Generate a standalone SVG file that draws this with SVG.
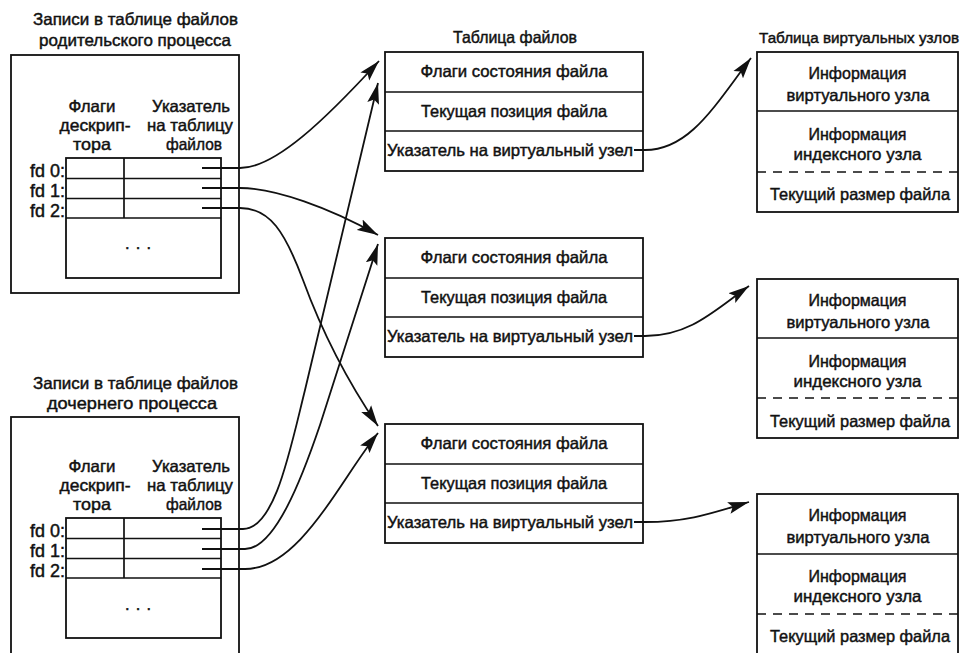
<svg xmlns="http://www.w3.org/2000/svg" width="970" height="653" viewBox="0 0 970 653">
<style>
.bx{fill:none;stroke:#111;stroke-width:1.8}
.ln{fill:none;stroke:#111;stroke-width:1.7}
.ds{fill:none;stroke:#111;stroke-width:1.6;stroke-dasharray:9 7}
.t{font-family:"Liberation Sans Narrow","Liberation Sans",Arial,sans-serif;font-size:16.5px;fill:#111;stroke:#111;stroke-width:0.45}
.m{text-anchor:middle}
.e{text-anchor:end}
.fd{font-size:18px}
.cn{fill:none;stroke:#111;stroke-width:1.8;marker-end:url(#ah)}
</style>
<defs>
<marker id="ah" viewBox="-21 -6.5 21 13" refX="0" refY="0" markerWidth="21" markerHeight="13" markerUnits="userSpaceOnUse" orient="auto">
<path d="M0,0 L-21,-6 L-17,0 L-21,6 Z" fill="#111"/>
</marker>
</defs>
<rect width="970" height="653" fill="#fff"/>

<g id="parent">
<text class="t" x="33" y="25" textLength="205" lengthAdjust="spacingAndGlyphs">Записи в таблице файлов</text>
<text class="t" x="39" y="46" textLength="192" lengthAdjust="spacingAndGlyphs">родительского процесса</text>
<rect class="bx" x="11" y="55" width="228" height="238"/>
<text class="t m" x="92" y="112" textLength="47" lengthAdjust="spacingAndGlyphs">Флаги</text>
<text class="t m" x="95" y="131" textLength="71" lengthAdjust="spacingAndGlyphs">дескрип-</text>
<text class="t m" x="92" y="150" textLength="38" lengthAdjust="spacingAndGlyphs">тора</text>
<text class="t m" x="191" y="112" textLength="78" lengthAdjust="spacingAndGlyphs">Указатель</text>
<text class="t m" x="190" y="131" textLength="86" lengthAdjust="spacingAndGlyphs">на таблицу</text>
<text class="t m" x="194" y="150" textLength="56" lengthAdjust="spacingAndGlyphs">файлов</text>
<rect class="bx" x="66" y="158" width="155" height="120"/>
<path class="ln" d="M66,178.5 H221 M66,198.5 H221 M66,218 H221 M124,158 V218"/>
<text class="t fd e" x="65" y="177" textLength="35" lengthAdjust="spacingAndGlyphs">fd 0:</text>
<text class="t fd e" x="65" y="197" textLength="35" lengthAdjust="spacingAndGlyphs">fd 1:</text>
<text class="t fd e" x="65" y="217" textLength="35" lengthAdjust="spacingAndGlyphs">fd 2:</text>
<text class="t" x="125" y="249" textLength="26" lengthAdjust="spacing">. . .</text>
</g>

<g id="child">
<text class="t" x="33" y="389" textLength="205" lengthAdjust="spacingAndGlyphs">Записи в таблице файлов</text>
<text class="t" x="47" y="409" textLength="170" lengthAdjust="spacingAndGlyphs">дочернего процесса</text>
<rect class="bx" x="11" y="417" width="228" height="260"/>
<text class="t m" x="92" y="472" textLength="47" lengthAdjust="spacingAndGlyphs">Флаги</text>
<text class="t m" x="95" y="491" textLength="71" lengthAdjust="spacingAndGlyphs">дескрип-</text>
<text class="t m" x="92" y="510" textLength="38" lengthAdjust="spacingAndGlyphs">тора</text>
<text class="t m" x="191" y="472" textLength="78" lengthAdjust="spacingAndGlyphs">Указатель</text>
<text class="t m" x="190" y="491" textLength="86" lengthAdjust="spacingAndGlyphs">на таблицу</text>
<text class="t m" x="194" y="510" textLength="56" lengthAdjust="spacingAndGlyphs">файлов</text>
<rect class="bx" x="66" y="518" width="155" height="120"/>
<path class="ln" d="M66,538.5 H221 M66,558.5 H221 M66,578 H221 M124,518 V578"/>
<text class="t fd e" x="65" y="537" textLength="35" lengthAdjust="spacingAndGlyphs">fd 0:</text>
<text class="t fd e" x="65" y="557" textLength="35" lengthAdjust="spacingAndGlyphs">fd 1:</text>
<text class="t fd e" x="65" y="577" textLength="35" lengthAdjust="spacingAndGlyphs">fd 2:</text>
<text class="t" x="125" y="610" textLength="26" lengthAdjust="spacing">. . .</text>
</g>

<g id="filetable-title">
<text class="t m" x="515" y="43" textLength="124" lengthAdjust="spacingAndGlyphs">Таблица файлов</text>
</g>

<g id="file1">
<rect class="bx" x="385" y="52" width="258" height="119"/>
<path class="ln" d="M385,92 H643 M385,131 H643"/>
<text class="t m" x="514" y="77" textLength="187" lengthAdjust="spacingAndGlyphs">Флаги состояния файла</text>
<text class="t m" x="514" y="116.5" textLength="186" lengthAdjust="spacingAndGlyphs">Текущая позиция файла</text>
<text class="t m" x="510" y="156" textLength="246" lengthAdjust="spacingAndGlyphs">Указатель на виртуальный узел</text>
</g>

<g id="file2">
<rect class="bx" x="385" y="238" width="258" height="119"/>
<path class="ln" d="M385,278 H643 M385,317 H643"/>
<text class="t m" x="514" y="263" textLength="187" lengthAdjust="spacingAndGlyphs">Флаги состояния файла</text>
<text class="t m" x="514" y="302.5" textLength="186" lengthAdjust="spacingAndGlyphs">Текущая позиция файла</text>
<text class="t m" x="510" y="342" textLength="246" lengthAdjust="spacingAndGlyphs">Указатель на виртуальный узел</text>
</g>

<g id="file3">
<rect class="bx" x="385" y="424" width="258" height="119"/>
<path class="ln" d="M385,464 H643 M385,503 H643"/>
<text class="t m" x="514" y="449" textLength="187" lengthAdjust="spacingAndGlyphs">Флаги состояния файла</text>
<text class="t m" x="514" y="488.5" textLength="186" lengthAdjust="spacingAndGlyphs">Текущая позиция файла</text>
<text class="t m" x="510" y="528" textLength="246" lengthAdjust="spacingAndGlyphs">Указатель на виртуальный узел</text>
</g>

<g id="vnode-title">
<text class="t m" x="859" y="43" style="font-size:15.5px" textLength="200" lengthAdjust="spacingAndGlyphs">Таблица виртуальных узлов</text>
</g>

<g id="vnode1">
<rect class="bx" x="757" y="52" width="201" height="160"/>
<path class="ln" d="M757,111 H958"/>
<path class="ds" d="M757,172 H958"/>
<text class="t m" x="857.5" y="79" textLength="98" lengthAdjust="spacingAndGlyphs">Информация</text>
<text class="t m" x="858" y="101" textLength="143" lengthAdjust="spacingAndGlyphs">виртуального узла</text>
<text class="t m" x="857.5" y="140" textLength="98" lengthAdjust="spacingAndGlyphs">Информация</text>
<text class="t m" x="857.5" y="160" textLength="128" lengthAdjust="spacingAndGlyphs">индексного узла</text>
<text class="t m" x="860" y="200" textLength="180" lengthAdjust="spacingAndGlyphs">Текущий размер файла</text>
</g>

<g id="vnode2">
<rect class="bx" x="757" y="279" width="201" height="159"/>
<path class="ln" d="M757,338 H958"/>
<path class="ds" d="M757,398 H958"/>
<text class="t m" x="857.5" y="306" textLength="98" lengthAdjust="spacingAndGlyphs">Информация</text>
<text class="t m" x="858" y="328" textLength="143" lengthAdjust="spacingAndGlyphs">виртуального узла</text>
<text class="t m" x="857.5" y="367" textLength="98" lengthAdjust="spacingAndGlyphs">Информация</text>
<text class="t m" x="857.5" y="387" textLength="128" lengthAdjust="spacingAndGlyphs">индексного узла</text>
<text class="t m" x="860" y="427" textLength="180" lengthAdjust="spacingAndGlyphs">Текущий размер файла</text>
</g>

<g id="vnode3">
<rect class="bx" x="757" y="494" width="201" height="160"/>
<path class="ln" d="M757,554 H958"/>
<path class="ds" d="M757,614 H958"/>
<text class="t m" x="857.5" y="521" textLength="98" lengthAdjust="spacingAndGlyphs">Информация</text>
<text class="t m" x="858" y="543" textLength="143" lengthAdjust="spacingAndGlyphs">виртуального узла</text>
<text class="t m" x="857.5" y="582" textLength="98" lengthAdjust="spacingAndGlyphs">Информация</text>
<text class="t m" x="857.5" y="602" textLength="128" lengthAdjust="spacingAndGlyphs">индексного узла</text>
<text class="t m" x="860" y="642" textLength="180" lengthAdjust="spacingAndGlyphs">Текущий размер файла</text>
</g>

<g id="connectors">
<path class="cn" d="M202,168 L240,168 C275,168 325,120 379,61"/>
<path class="cn" d="M202,188 L240,188 C275,188 330,208 378,235"/>
<path class="cn" d="M202,208 L240,208 C270,208 285,232 303,280 C325,340 350,385 378,426"/>
<path class="cn" d="M202,529 L243,529 C275,529 290,450 305,390 L378,83"/>
<path class="cn" d="M202,549 L245,549 C275,549 302,478 320,425 L378,244"/>
<path class="cn" d="M202,569 L245,569 C300,569 340,480 378,433"/>
<path class="cn" d="M634,150 L645,150 C690,150 715,105 751,58"/>
<path class="cn" d="M634,336 L645,336 C690,336 715,310 749,286"/>
<path class="cn" d="M634,522 L645,522 C690,522 715,512 749,502"/>
</g>
</svg>
